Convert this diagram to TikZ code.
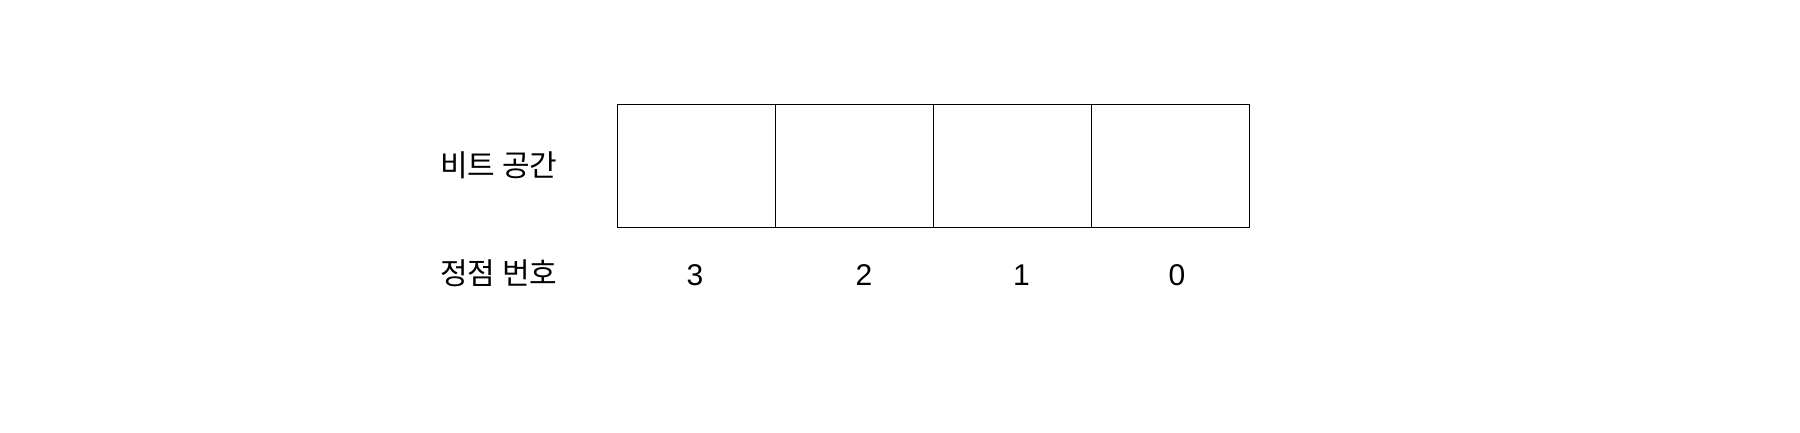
\documentclass[tikz,border=0pt]{standalone}
\usepackage{fontspec}
\setmainfont{Liberation Sans}
\newfontfamily\kr{Noto Sans CJK KR}
\begin{document}
\begin{tikzpicture}[x=1pt,y=1pt,
  cell/.style={draw=black,line width=1.2pt,minimum width=158pt,minimum height=123pt,inner sep=0pt,outer sep=0pt},
  lbl/.style={anchor=west,inner sep=0pt,font=\kr\fontsize{30}{34}\selectfont},
  num/.style={inner sep=0pt,font=\fontsize{30}{34}\selectfont}]
\useasboundingbox (0,0) rectangle (1800,432);
\node[cell] (b3) at (696.3,266.3) {};
\node[cell] (b2) at (854.4,266.3) {};
\node[cell] (b1) at (1012.4,266.3) {};
\node[cell] (b0) at (1170.3,266.3) {};
\node[lbl] (l1) at (440,267) {비트 공간};
\node[lbl] (l2) at (440,159) {정점 번호};
\node[num] (n3) at (695,157) {3};
\node[num] (n2) at (864,157) {2};
\node[num] (n1) at (1021.5,157) {1};
\node[num] (n0) at (1177,157) {0};
\end{tikzpicture}
\end{document}
